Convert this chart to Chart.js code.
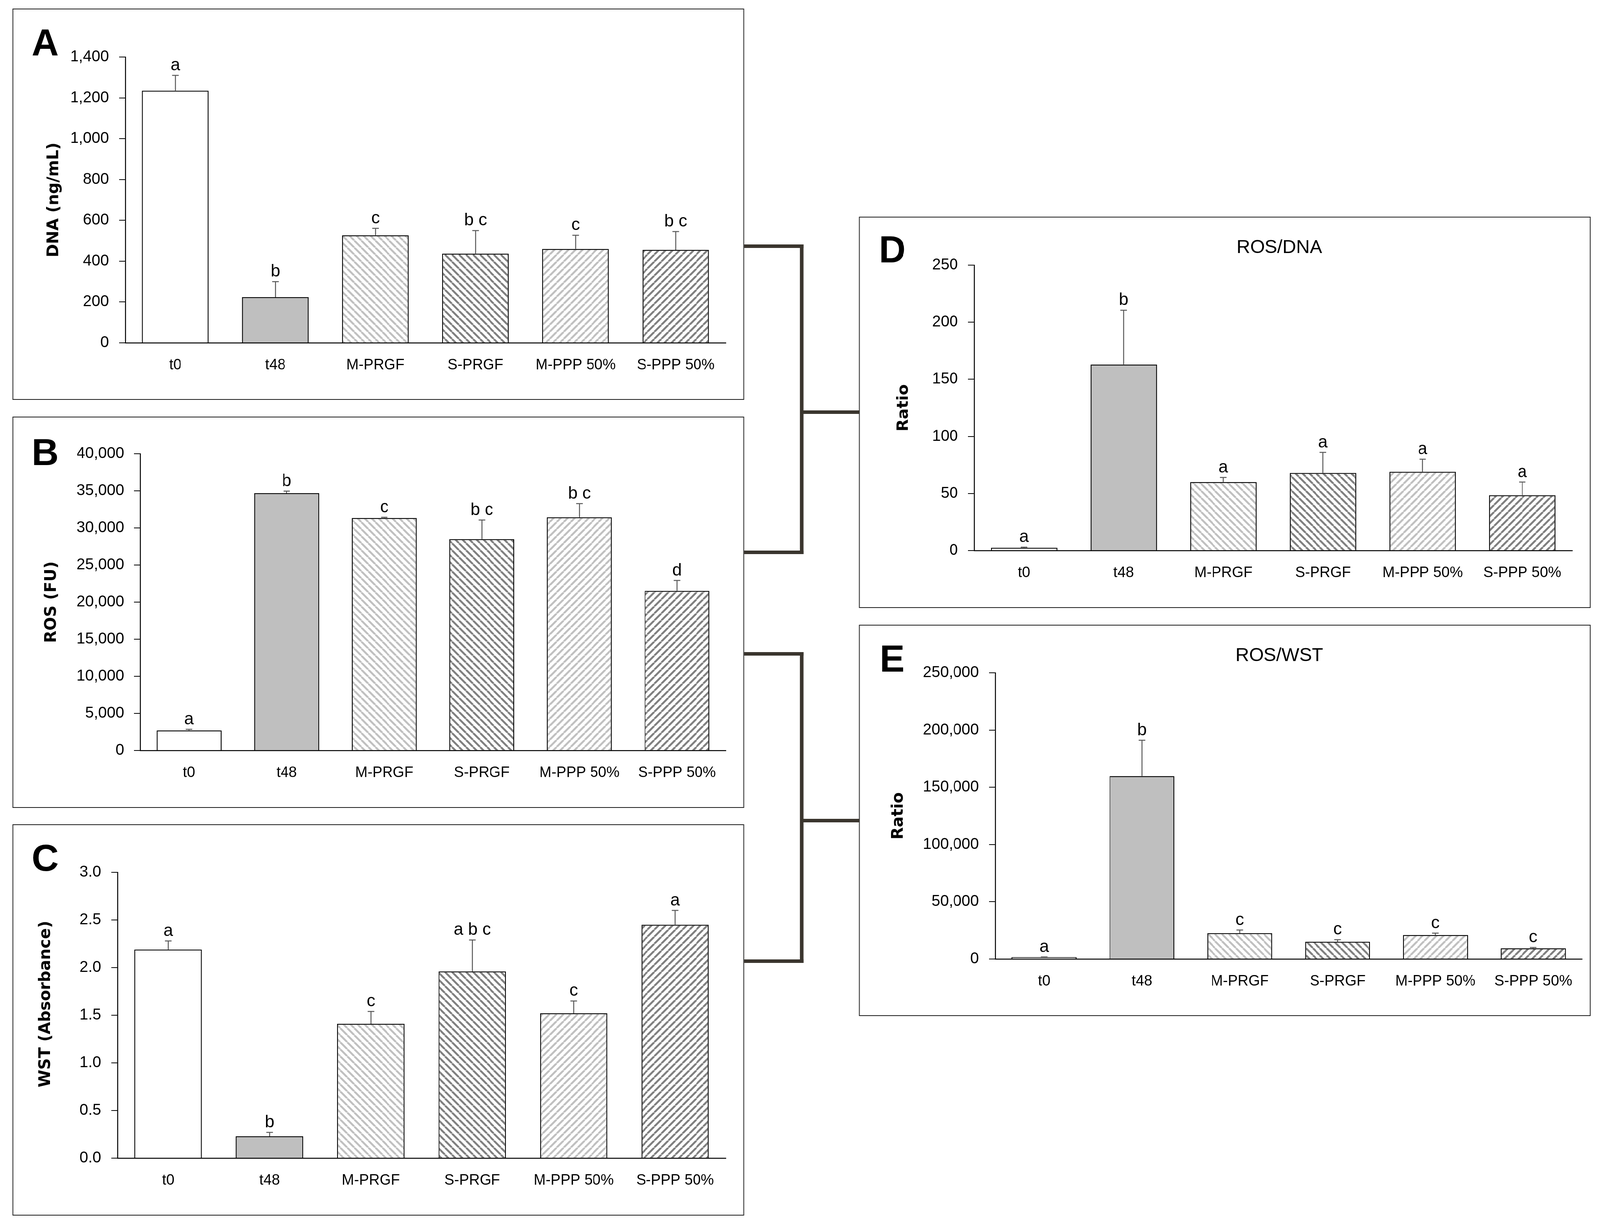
<!DOCTYPE html>
<html>
<head>
<meta charset="utf-8">
<script src="https://cdn.jsdelivr.net/npm/chart.js@4.4.1/dist/chart.umd.min.js"></script>
<style>
  html, body { margin: 0; padding: 0; width: 100%; height: 100%; overflow: hidden; background: #fff; }
  #page { position: absolute; left: 0; top: 0; width: 4127px; height: 3150px; background: #fff; transform-origin: 0 0; }
  .panel { position: absolute; width: 1887px; height: 1002px; outline: 2.5px solid #1a1a1a; outline-offset: -2.5px; }
  .panel canvas { position: absolute; left: 0; top: 0; }
  .conn { position: absolute; background: #3a352e; }
</style>
</head>
<body>
<div id="page">
<div class="panel" style="left:32px;top:22px"><canvas id="chartA" width="1887" height="1002"></canvas></div>
<div class="panel" style="left:32px;top:1067px"><canvas id="chartB" width="1887" height="1002"></canvas></div>
<div class="panel" style="left:32px;top:2111px"><canvas id="chartC" width="1887" height="1002"></canvas></div>
<div class="panel" style="left:2216px;top:555px"><canvas id="chartD" width="1887" height="1002"></canvas></div>
<div class="panel" style="left:2216px;top:1600px"><canvas id="chartE" width="1887" height="1002"></canvas></div>

<!-- bracket connectors -->
<div class="conn" style="left:1919px;top:626px;width:154px;height:9px"></div>
<div class="conn" style="left:1919px;top:1410px;width:154px;height:9px"></div>
<div class="conn" style="left:2063px;top:626px;width:10px;height:793px"></div>
<div class="conn" style="left:2063px;top:1051px;width:154px;height:9px"></div>
<div class="conn" style="left:1919px;top:1670px;width:154px;height:9px"></div>
<div class="conn" style="left:1919px;top:2457px;width:154px;height:9px"></div>
<div class="conn" style="left:2063px;top:1670px;width:10px;height:796px"></div>
<div class="conn" style="left:2063px;top:2097px;width:154px;height:9px"></div>
</div>

<script>
// ---- data ----
const categories = ['t0', 't48', 'M-PRGF', 'S-PRGF', 'M-PPP 50%', 'S-PPP 50%'];

const dnaMeans = [1235, 224, 527, 437, 460, 455];
const dnaErr = [75, 76, 34, 113, 67, 90];
const dnaLetters = ['a', 'b', 'c', 'b c', 'c', 'b c'];

const rosMeans = [2710, 34680, 31340, 28490, 31440, 21510];
const rosErr = [140, 280, 100, 2570, 1840, 1410];
const rosLetters = ['a', 'b', 'c', 'b c', 'b c', 'd'];

const wstMeans = [2.19, 0.23, 1.41, 1.96, 1.52, 2.45];
const wstErr = [0.09, 0.04, 0.13, 0.33, 0.13, 0.15];
const wstLetters = ['a', 'b', 'c', 'a b c', 'c', 'a'];

const rosDnaMeans = [2.5, 163, 60, 68, 69, 48.5];
const rosDnaErr = [0.5, 47.5, 4, 18, 11, 11.5];
const rosDnaLetters = ['a', 'b', 'a', 'a', 'a', 'a'];

const rosWstMeans = [1600, 159800, 22600, 15100, 21000, 9400];
const rosWstErr = [200, 31300, 2700, 1800, 1600, 700];
const rosWstLetters = ['a', 'b', 'c', 'c', 'c', 'c'];

const tickFont = '"Liberation Sans", Arial, sans-serif';
const H = 1002;

// fit the 4127x3150 page to whatever viewport we actually get
(function fitPage() {
  const sx = window.innerWidth / 4127, sy = window.innerHeight / 3150;
  if (sx > 0.5 && sy > 0.5 && (Math.abs(sx - 1) > 0.001 || Math.abs(sy - 1) > 0.001)) {
    document.getElementById('page').style.transform = 'scale(' + sx + ',' + sy + ')';
  }
})();

// hatch fills
function hatch(color, dir) {
  const p = 18;
  const c = document.createElement('canvas');
  c.width = p; c.height = p;
  const g = c.getContext('2d');
  g.fillStyle = '#fff';
  g.fillRect(0, 0, p, p);
  g.strokeStyle = color;
  g.lineWidth = 5;
  g.beginPath();
  for (let k = -1; k <= 1; k++) {
    if (dir === 'back') {
      g.moveTo(k * p, 0); g.lineTo(k * p + p, p);
    } else {
      g.moveTo(k * p, p); g.lineTo(k * p + p, 0);
    }
  }
  g.stroke();
  return g.createPattern(c, 'repeat');
}

const fills = [
  '#ffffff',
  '#bfbfbf',
  hatch('#c0c0c0', 'back'),
  hatch('#808080', 'back'),
  hatch('#c0c0c0', 'fwd'),
  hatch('#808080', 'fwd')
];

// error bars, significance letters, panel tag and title
const marks = {
  id: 'marks',
  afterDatasetsDraw(chart, args, o) {
    const ctx = chart.ctx;
    const y = chart.scales.y;
    const meta = chart.getDatasetMeta(0);
    ctx.save();
    meta.data.forEach((bar, i) => {
      const base = y.getPixelForValue(o.means[i]);
      const top = y.getPixelForValue(o.means[i] + o.errs[i]);
      ctx.strokeStyle = '#595959';
      ctx.lineWidth = 2.5;
      ctx.beginPath();
      ctx.moveTo(bar.x, base); ctx.lineTo(bar.x, top);
      ctx.moveTo(bar.x - 8.5, top); ctx.lineTo(bar.x + 8.5, top);
      ctx.stroke();
      ctx.fillStyle = '#000';
      ctx.font = '44px ' + tickFont;
      ctx.textAlign = 'center';
      ctx.textBaseline = 'alphabetic';
      ctx.fillText(o.letters[i], bar.x, top - 13);
    });
    ctx.fillStyle = '#000';
    ctx.textAlign = 'left';
    ctx.textBaseline = 'alphabetic';
    ctx.font = 'bold 96px "Liberation Sans", Arial, sans-serif';
    ctx.fillText(o.tag, o.tagX, o.tagY);
    if (o.title) {
      ctx.textAlign = 'center';
      ctx.textBaseline = 'middle';
      ctx.font = '48.5px ' + tickFont;
      ctx.fillText(o.title, 1084, 80);
    }
    ctx.restore();
  }
};

function makePanel(id, p) {
  new Chart(document.getElementById(id), {
    type: 'bar',
    data: {
      labels: categories,
      datasets: [{
        data: p.means,
        backgroundColor: fills,
        borderColor: '#000',
        borderWidth: 2.5,
        categoryPercentage: 1,
        barPercentage: 0.665
      }]
    },
    options: {
      responsive: false,
      animation: false,
      devicePixelRatio: 1,
      layout: { padding: { left: 0, top: p.top, right: 1887 - p.right, bottom: 0 } },
      plugins: {
        legend: { display: false },
        tooltip: { enabled: false },
        marks: {
          means: p.means, errs: p.errs, letters: p.letters,
          tag: p.tag, tagX: p.tagX, tagY: p.tagY, title: p.title
        }
      },
      scales: {
        x: {
          grid: { display: false, drawTicks: false },
          border: { display: true, color: '#000', width: 2.5 },
          ticks: { color: '#000', font: { family: tickFont, size: 38 }, padding: 35, maxRotation: 0, autoSkip: false },
          afterFit: s => { s.height = H - p.bottom; }
        },
        y: {
          min: 0,
          max: p.max,
          ticks: {
            stepSize: p.step,
            color: '#000',
            padding: 26,
            font: { family: tickFont, size: 40 },
            callback: p.fmt
          },
          grid: { drawOnChartArea: false, drawTicks: true, tickLength: 16, color: '#000', lineWidth: 2 },
          border: { display: true, color: '#000', width: 2.5 },
          title: {
            display: true,
            text: p.ytitle,
            color: '#000',
            font: { family: '"DejaVu Sans", sans-serif', weight: 'bold', size: 41 },
            padding: { top: p.titleX - 24.6, bottom: 0 }
          },
          afterFit: s => { s.width = p.left; }
        }
      }
    },
    plugins: [marks]
  });
}

const comma = v => Number(v).toLocaleString('en-US');

makePanel('chartA', {
  means: dnaMeans, errs: dnaErr, letters: dnaLetters,
  max: 1400, step: 200, fmt: comma, ytitle: 'DNA (ng/mL)',
  left: 291, top: 124, bottom: 856, right: 1840, titleX: 107,
  tag: 'A', tagX: 50, tagY: 120
});
makePanel('chartB', {
  means: rosMeans, errs: rosErr, letters: rosLetters,
  max: 40000, step: 5000, fmt: comma, ytitle: 'ROS (FU)',
  left: 330, top: 95, bottom: 855, right: 1840, titleX: 101,
  tag: 'B', tagX: 50, tagY: 124
});
makePanel('chartC', {
  means: wstMeans, errs: wstErr, letters: wstLetters,
  max: 3, step: 0.5, fmt: v => Number(v).toFixed(1), ytitle: '    WST (Absorbance)',
  left: 271, top: 123, bottom: 855, right: 1840, titleX: 86,
  tag: 'C', tagX: 50, tagY: 119
});
makePanel('chartD', {
  means: rosDnaMeans, errs: rosDnaErr, letters: rosDnaLetters,
  max: 250, step: 50, fmt: comma, ytitle: 'Ratio',
  left: 297, top: 124, bottom: 855, right: 1839, titleX: 115,
  tag: 'D', tagX: 51, tagY: 117, title: 'ROS/DNA'
});
makePanel('chartE', {
  means: rosWstMeans, errs: rosWstErr, letters: rosWstLetters,
  max: 250000, step: 50000, fmt: comma, ytitle: 'Ratio',
  left: 351, top: 123, bottom: 856, right: 1865, titleX: 101,
  tag: 'E', tagX: 53, tagY: 120, title: 'ROS/WST'
});
</script>
</body>
</html>
